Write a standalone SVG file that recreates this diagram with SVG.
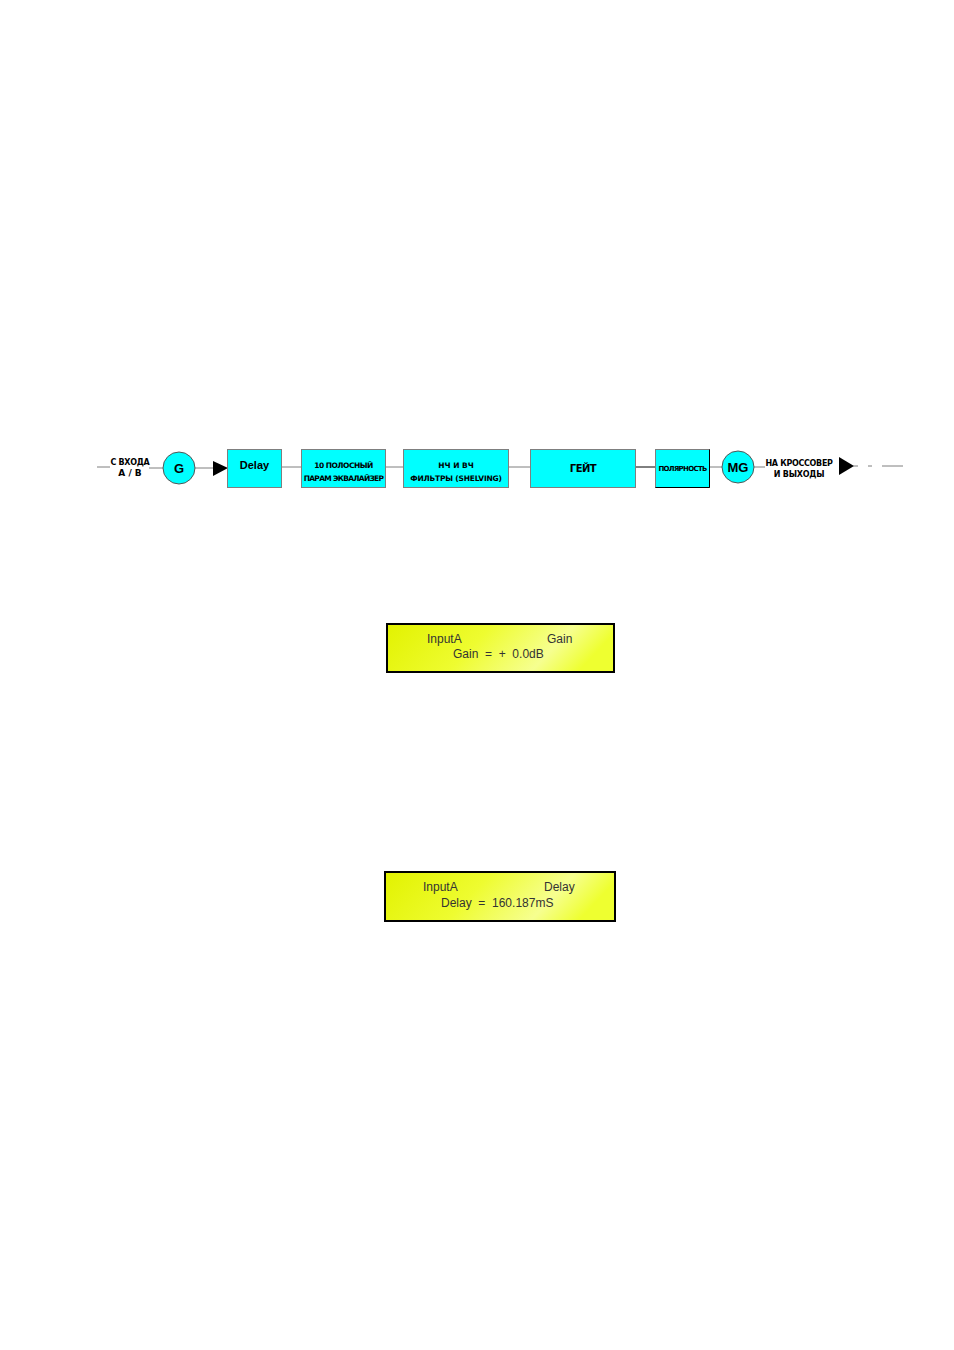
<svg xmlns="http://www.w3.org/2000/svg" width="954" height="1350" viewBox="0 0 954 1350">
<defs>
<style>
.box{fill:#00ffff;stroke:#7f7f7f;stroke-width:1}
.circ{fill:#00ffff;stroke:#555;stroke-width:1}
.ln{stroke:#7f7f7f;stroke-width:1;fill:none}
.lbl{font-family:"DejaVu Sans","Liberation Sans",sans-serif;font-weight:bold;fill:#000;text-anchor:middle}
.big{font-family:"Liberation Sans",Arial,sans-serif;font-weight:bold;fill:#000;text-anchor:middle}
.lcd{stroke:#000;stroke-width:2}
.lt{font-family:"Liberation Sans",Arial,sans-serif;font-size:12px;fill:#333}
</style>
<linearGradient id="lcdg" x1="0" y1="0" x2="1" y2="0.2">
<stop offset="0" stop-color="#e2f200"/>
<stop offset="0.45" stop-color="#eefc30"/>
<stop offset="0.8" stop-color="#f6ff90"/>
<stop offset="1" stop-color="#eeff30"/>
</linearGradient>
</defs>
<rect width="954" height="1350" fill="#fff"/>
<g id="connectors">
<line class="ln" x1="97" y1="467" x2="110" y2="467"/>
<line class="ln" x1="149" y1="468" x2="163" y2="468"/>
<line class="ln" x1="195" y1="468" x2="214" y2="468"/>
<polygon points="213,461 228,468 213,476" fill="#000"/>
<line class="ln" x1="282" y1="467" x2="301" y2="467"/>
<line class="ln" x1="386" y1="467" x2="403" y2="467"/>
<line class="ln" x1="508" y1="467" x2="530" y2="467"/>
<line x1="636" y1="467" x2="655" y2="467" stroke="#000" stroke-width="1"/>
<line class="ln" x1="709" y1="467" x2="722" y2="467"/>
<line class="ln" x1="754" y1="467" x2="765" y2="467"/>
<polygon points="839,457 854,466 839,475" fill="#000"/>
<line class="ln" x1="853" y1="466" x2="858" y2="466"/>
<line class="ln" x1="868" y1="466" x2="872" y2="466"/>
<line class="ln" x1="882" y1="466" x2="903" y2="466"/>
</g>
<g id="input-label">
<text class="lbl" x="130" y="465" font-size="8" letter-spacing="-0.3">С ВХОДА</text>
<text class="lbl" x="130" y="476" font-size="9">А / В</text>
</g>
<g id="node-g">
<circle class="circ" cx="179" cy="468" r="16"/>
<text class="big" x="179" y="473" font-size="13">G</text>
</g>
<g id="node-delay">
<rect class="box" x="227.5" y="449.5" width="54" height="38"/>
<text class="big" x="254.5" y="469" font-size="11">Delay</text>
</g>
<g id="node-eq">
<rect class="box" x="301.5" y="449.5" width="84" height="38"/>
<text class="lbl" x="343.5" y="468" font-size="7.5" letter-spacing="-0.5">10 ПОЛОСНЫЙ</text>
<text class="lbl" x="343.5" y="481" font-size="7.5" letter-spacing="-0.7">ПАРАМ ЭКВАЛАЙЗЕР</text>
</g>
<g id="node-shelving">
<rect class="box" x="403.5" y="449.5" width="105" height="38"/>
<text class="lbl" x="456" y="468" font-size="7.5">НЧ И ВЧ</text>
<text class="lbl" x="456" y="481" font-size="7.5" letter-spacing="-0.2">ФИЛЬТРЫ (SHELVING)</text>
</g>
<g id="node-gate">
<rect class="box" x="530.5" y="449.5" width="105" height="38"/>
<text class="lbl" x="583" y="472" font-size="10" letter-spacing="-0.5">ГЕЙТ</text>
</g>
<g id="node-polarity">
<rect class="box" x="655.5" y="449.5" width="54" height="38"/>
<path d="M709.5,449.5 V487.5 H655.5" stroke="#000" fill="none"/>
<text class="lbl" x="682.5" y="471" font-size="7" letter-spacing="-0.7">ПОЛЯРНОСТЬ</text>
</g>
<g id="node-mg">
<circle class="circ" cx="738" cy="467" r="16"/>
<text class="big" x="738" y="472" font-size="13">MG</text>
</g>
<g id="output-label">
<text class="lbl" x="799" y="466" font-size="8" letter-spacing="-0.3">НА КРОССОВЕР</text>
<text class="lbl" x="799" y="477" font-size="8" letter-spacing="-0.2">И ВЫХОДЫ</text>
</g>
<g id="lcd-gain">
<rect class="lcd" x="387" y="624" width="227" height="48" fill="url(#lcdg)"/>
<text class="lt" x="427" y="643">InputA</text>
<text class="lt" x="547" y="643">Gain</text>
<text class="lt" x="453" y="658" xml:space="preserve">Gain  =  +  0.0dB</text>
</g>
<g id="lcd-delay">
<rect class="lcd" x="385" y="872" width="230" height="49" fill="url(#lcdg)"/>
<text class="lt" x="423" y="891">InputA</text>
<text class="lt" x="544" y="891">Delay</text>
<text class="lt" x="441" y="907" xml:space="preserve">Delay  =  160.187mS</text>
</g>
</svg>
